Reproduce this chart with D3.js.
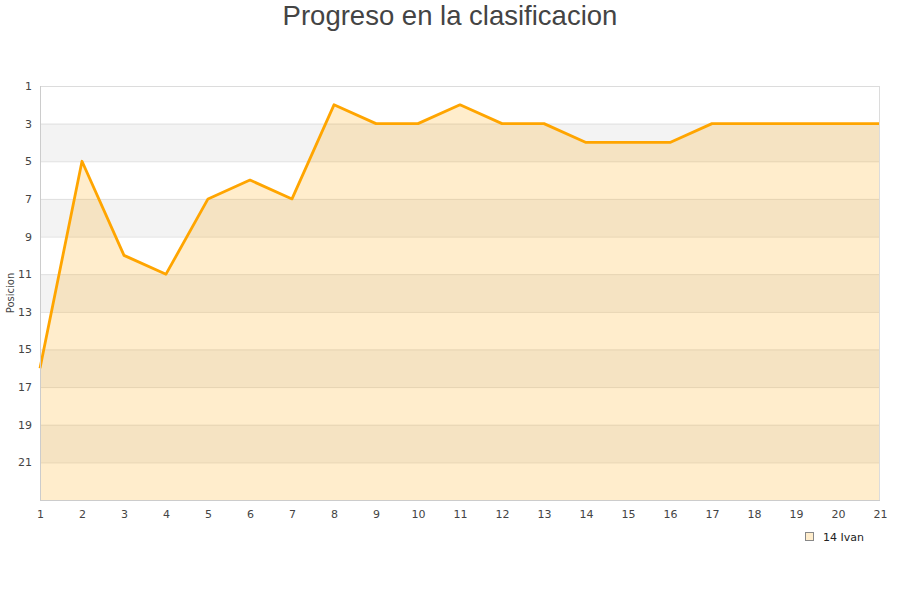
<!DOCTYPE html>
<html><head><meta charset="utf-8">
<script src="https://cdn.jsdelivr.net/npm/d3@7"></script>
<style>body{margin:0;background:#fff;font-family:"Liberation Sans",Arial,sans-serif;}</style>
</head><body><svg id="c" width="900" height="600"></svg>
<script>
const jornadas = d3.range(1, 22);
const posiciones = [16,5,10,11,7,6,7,2,3,3,2,3,3,4,4,4,3,3,3,3,3];
const yTicks = [1,3,5,7,9,11,13,15,17,19,21];
const seriesName = "14 Ivan";
const title = "Progreso en la clasificacion";
const yTitle = "Posicion";

const svg = d3.select("#c");
const L = 40, R = 880, T = 86, B = 500;
const x = d3.scaleLinear().domain([1,21]).range([L,R]);
const y = d3.scaleLinear().domain([1,23]).range([T,B]);

const bandStarts = [3,7,11,15,19];
svg.selectAll("rect.band").data(bandStarts).enter().append("rect")
  .attr("x", L).attr("width", R-L)
  .attr("y", d=>y(d)).attr("height", d=>y(d+2)-y(d))
  .attr("fill", "#f3f3f3");
svg.selectAll("line.grid").data(yTicks.slice(1)).enter().append("line")
  .attr("x1", L).attr("x2", R).attr("y1", d=>y(d)+0.5).attr("y2", d=>y(d)+0.5)
  .attr("stroke", "#e0e0e0").attr("stroke-width", 1);

const area = d3.area().x((d,i)=>x(jornadas[i])).y0(B).y1(d=>y(d));
svg.append("path").datum(posiciones).attr("d", area)
  .attr("fill", "rgba(255,165,0,0.2)");
const line = d3.line().x((d,i)=>x(jornadas[i])).y(d=>y(d));
svg.append("path").datum(posiciones).attr("d", line)
  .attr("fill", "none").attr("stroke", "#ffa500").attr("stroke-width", 2.8)
  .attr("stroke-linejoin", "round");

svg.append("rect").attr("x", L+0.5).attr("y", T+0.5).attr("width", R-L-1).attr("height", B-T)
  .attr("fill", "none").attr("stroke", "#dcdcdc");
svg.append("line").attr("x1", L+0.5).attr("x2", L+0.5).attr("y1", T).attr("y2", B+0.5)
  .attr("stroke", "#cccccc");
svg.append("line").attr("x1", L).attr("x2", R).attr("y1", B+0.5).attr("y2", B+0.5)
  .attr("stroke", "#cccccc");

const yAxis = d3.axisLeft(y).tickValues(yTicks).tickSize(0).tickPadding(8);
const gy = svg.append("g").attr("transform", `translate(${L},0)`).call(yAxis);
gy.select(".domain").remove();
gy.selectAll("text").attr("font-size", 11).attr("fill", "#444").attr("font-family", "DejaVu Sans, sans-serif");

const xAxis = d3.axisBottom(x).tickValues(jornadas).tickSize(0).tickPadding(10).tickFormat(d3.format("d"));
const gx = svg.append("g").attr("transform", `translate(0,${B})`).call(xAxis);
gx.select(".domain").remove();
gx.selectAll("text").attr("font-size", 11).attr("fill", "#444").attr("font-family", "DejaVu Sans, sans-serif");

svg.append("text").attr("x", 450).attr("y", 25).attr("text-anchor", "middle")
  .attr("font-size", 27.5).attr("fill", "#444").text(title);
svg.append("text").attr("transform", "translate(14,293) rotate(-90)").attr("text-anchor", "middle")
  .attr("font-size", 10).attr("fill", "#444").attr("font-family", "DejaVu Sans, sans-serif").text(yTitle);

svg.append("rect").attr("x", 805.5).attr("y", 532.5).attr("width", 8).attr("height", 8)
  .attr("fill", "#ffedcc").attr("stroke", "#888");
svg.append("text").attr("x", 823).attr("y", 541).attr("font-size", 11).attr("fill", "#222")
  .attr("font-family", "DejaVu Sans, sans-serif").text(seriesName);
</script></body></html>
